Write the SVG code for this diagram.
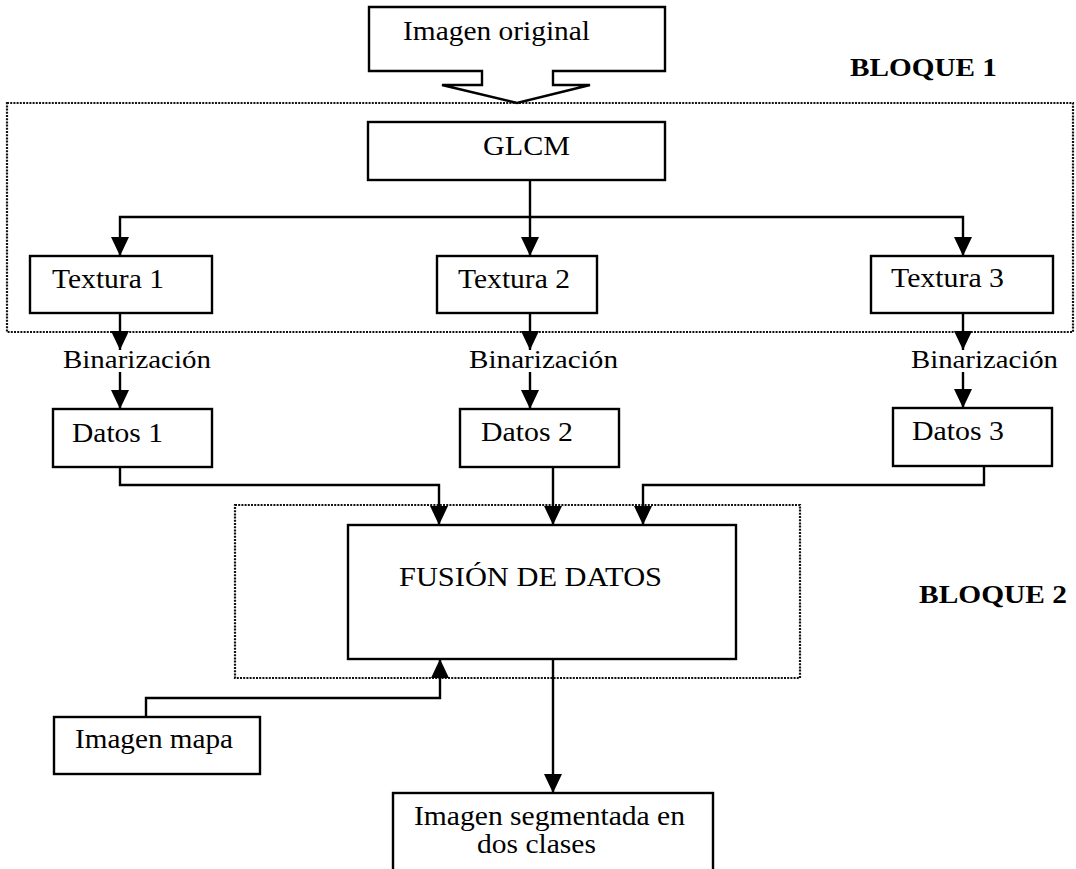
<svg xmlns="http://www.w3.org/2000/svg" width="1076" height="869" viewBox="0 0 1076 869">
  <style>
    .box { fill: #ffffff; stroke: #000000; stroke-width: 2.4; }
    .block { fill: none; stroke: #111111; stroke-width: 2.2; stroke-dasharray: 2 1.2; }
    .wire { fill: none; stroke: #000000; stroke-width: 2.4; }
    .lbl { font-family: "Liberation Serif", "Times New Roman", serif; font-size: 28px; fill: #000000; }
    .small { font-size: 25px; }
    .title { font-family: "Liberation Serif", "Times New Roman", serif; font-size: 25px; font-weight: bold; fill: #000000; }
  </style>
  <defs>
    <marker id="head" markerUnits="userSpaceOnUse" markerWidth="20" markerHeight="20" viewBox="0 0 20 20" refX="19" refY="9" orient="auto">
      <path d="M0,0 L19,9 L0,18 Z" fill="#000000"/>
    </marker>
  </defs>

  <rect width="1076" height="869" fill="#ffffff"/>

  <!-- dotted block outlines -->
  <rect id="bloque1-frame" class="block" x="7" y="103" width="1066" height="229"/>
  <rect id="bloque2-frame" class="block" x="235" y="505" width="565" height="173"/>
  <text class="title" x="850" y="76" textLength="147" lengthAdjust="spacingAndGlyphs">BLOQUE 1</text>
  <text class="title" x="919" y="603" textLength="148" lengthAdjust="spacingAndGlyphs">BLOQUE 2</text>

  <!-- connectors -->
  <g id="connectors">
    <polyline class="wire" points="530,180 530,217"/>
    <polyline class="wire" points="530,217 120,217 120,256" marker-end="url(#head)"/>
    <polyline class="wire" points="530,217 963,217 963,256" marker-end="url(#head)"/>
    <polyline class="wire" points="530,217 530,256" marker-end="url(#head)"/>
    <polyline class="wire" points="120,313 120,350" marker-end="url(#head)"/>
    <polyline class="wire" points="530,313 530,350" marker-end="url(#head)"/>
    <polyline class="wire" points="963,313 963,350" marker-end="url(#head)"/>
    <polyline class="wire" points="120,372 120,409" marker-end="url(#head)"/>
    <polyline class="wire" points="530,372 530,409" marker-end="url(#head)"/>
    <polyline class="wire" points="963,372 963,408" marker-end="url(#head)"/>
    <polyline class="wire" points="120,467 120,485 439,485 439,525" marker-end="url(#head)"/>
    <polyline class="wire" points="553,467 553,525" marker-end="url(#head)"/>
    <polyline class="wire" points="984,466 984,485 643,485 643,525" marker-end="url(#head)"/>
    <polyline class="wire" points="146,717 146,698 440,698 440,659" marker-end="url(#head)"/>
    <polyline class="wire" points="553,659 553,793" marker-end="url(#head)"/>
  </g>

  <!-- source image with block arrow -->
  <g id="imagen-original">
    <path class="box" d="M369,7 L665,7 L665,71 L553,71 L553,85 L590,85 L517,103 L442,85 L482,85 L482,71 L369,71 Z"/>
    <text class="lbl" x="403" y="40" textLength="187" lengthAdjust="spacingAndGlyphs">Imagen original</text>
  </g>

  <g id="glcm">
    <rect class="box" x="368" y="122" width="297" height="58"/>
    <text class="lbl" x="483" y="155" textLength="87" lengthAdjust="spacingAndGlyphs">GLCM</text>
  </g>

  <g id="textura-1">
    <rect class="box" x="30" y="256" width="182" height="57"/>
    <text class="lbl" x="52" y="288" textLength="112" lengthAdjust="spacingAndGlyphs">Textura 1</text>
  </g>
  <g id="textura-2">
    <rect class="box" x="437" y="256" width="160" height="57"/>
    <text class="lbl" x="458" y="288" textLength="112" lengthAdjust="spacingAndGlyphs">Textura 2</text>
  </g>
  <g id="textura-3">
    <rect class="box" x="871" y="256" width="182" height="57"/>
    <text class="lbl" x="891" y="287" textLength="113" lengthAdjust="spacingAndGlyphs">Textura 3</text>
  </g>

  <g id="binarizacion-labels">
    <text class="lbl small" x="63" y="368" textLength="148" lengthAdjust="spacingAndGlyphs">Binarización</text>
    <text class="lbl small" x="469" y="368" textLength="149" lengthAdjust="spacingAndGlyphs">Binarización</text>
    <text class="lbl small" x="911" y="368" textLength="147" lengthAdjust="spacingAndGlyphs">Binarización</text>
  </g>

  <g id="datos-1">
    <rect class="box" x="53" y="409" width="159" height="58"/>
    <text class="lbl" x="72" y="442" textLength="91" lengthAdjust="spacingAndGlyphs">Datos 1</text>
  </g>
  <g id="datos-2">
    <rect class="box" x="460" y="409" width="159" height="58"/>
    <text class="lbl" x="481" y="441" textLength="92" lengthAdjust="spacingAndGlyphs">Datos 2</text>
  </g>
  <g id="datos-3">
    <rect class="box" x="893" y="408" width="159" height="58"/>
    <text class="lbl" x="912" y="440" textLength="92" lengthAdjust="spacingAndGlyphs">Datos 3</text>
  </g>

  <g id="fusion">
    <rect class="box" x="348" y="525" width="388" height="134"/>
    <text class="lbl" x="399" y="586" textLength="263" lengthAdjust="spacingAndGlyphs">FUSIÓN DE DATOS</text>
  </g>

  <g id="imagen-mapa">
    <rect class="box" x="54" y="717" width="206" height="57"/>
    <text class="lbl" x="75" y="748" textLength="158" lengthAdjust="spacingAndGlyphs">Imagen mapa</text>
  </g>

  <g id="imagen-segmentada">
    <rect class="box" x="393" y="793" width="320" height="86"/>
    <text class="lbl" x="414" y="825" textLength="271" lengthAdjust="spacingAndGlyphs">Imagen segmentada en</text>
    <text class="lbl" x="477" y="853" textLength="119" lengthAdjust="spacingAndGlyphs">dos clases</text>
  </g>
</svg>
